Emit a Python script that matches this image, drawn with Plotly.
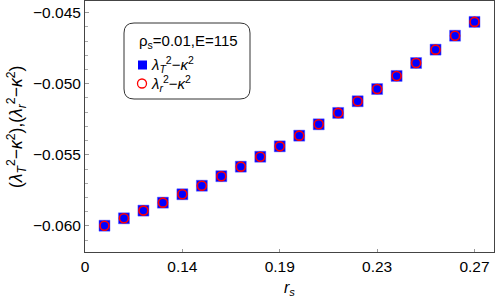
import plotly.graph_objects as go

# ---- data ----
point_index = list(range(1, 21))
lam_T = [-0.05998, -0.05946, -0.05892, -0.05836, -0.05777, -0.05717, -0.05650,
         -0.05583, -0.05513, -0.05440, -0.05365, -0.05285, -0.05205, -0.05123,
         -0.05037, -0.04945, -0.04854, -0.04760, -0.04662, -0.04565]
lam_r = [-0.05998, -0.05946, -0.05892, -0.05836, -0.05777, -0.05717, -0.05650,
         -0.05583, -0.05513, -0.05440, -0.05365, -0.05285, -0.05205, -0.05123,
         -0.05037, -0.04945, -0.04854, -0.04760, -0.04662, -0.04565]
x_tickvals = [0, 5, 10, 15, 20]
x_ticktext = ["0", "0.14", "0.19", "0.23", "0.27"]
y_tickvals = [-0.060, -0.055, -0.050, -0.045]

W, H = 496, 307
L, R, T, B = 85, 2, 1, 55
pw, ph = W - L - R, H - T - B

def px(x):
    return (x - L) / pw

def py(y):
    return (H - B - y) / ph

FONT = "Liberation Sans, Arial, sans-serif"

fig = go.Figure()
fig.add_trace(go.Scatter(x=point_index, y=lam_T, mode="markers",
                         marker=dict(symbol="square", size=11, color="#0000FF",
                                     line=dict(width=0.8, color="rgba(90,90,255,0.6)")),
                         showlegend=False, hoverinfo="skip"))
fig.add_trace(go.Scatter(x=point_index, y=lam_r, mode="markers",
                         marker=dict(symbol="circle-open", size=9, color="#FF0000",
                                     line=dict(width=1.6, color="#FF0000")),
                         showlegend=False, hoverinfo="skip"))

# legend box (rounded)
x0, x1, y0, y1, r = 124, 250, 23, 99, 10
path = (f"M {px(x0+r)},{py(y0)} L {px(x1-r)},{py(y0)} "
        f"Q {px(x1)},{py(y0)} {px(x1)},{py(y0+r)} L {px(x1)},{py(y1-r)} "
        f"Q {px(x1)},{py(y1)} {px(x1-r)},{py(y1)} L {px(x0+r)},{py(y1)} "
        f"Q {px(x0)},{py(y1)} {px(x0)},{py(y1-r)} L {px(x0)},{py(y0+r)} "
        f"Q {px(x0)},{py(y0)} {px(x0+r)},{py(y0)} Z")
shapes = [dict(type="path", path=path, xref="paper", yref="paper",
               line=dict(color="#333333", width=1), fillcolor="white")]
shapes.append(dict(type="rect", xref="paper", yref="paper",
                   x0=px(138), x1=px(147), y0=py(69.5), y1=py(60.5),
                   fillcolor="#0000FF", line=dict(width=0)))
shapes.append(dict(type="circle", xref="paper", yref="paper",
                   x0=px(137.5), x1=px(146.5), y0=py(88), y1=py(79),
                   fillcolor="rgba(0,0,0,0)", line=dict(color="#FF0000", width=1.3)))

annotations = [
    dict(text="ρ<sub>s</sub>=0.01,E=115", x=px(137), y=py(42), xref="paper", yref="paper",
         xanchor="left", yanchor="middle", showarrow=False, font=dict(size=15, color="black", family=FONT)),
    dict(text="<i>λ<sub>T</sub></i><sup>2</sup>−<i>κ</i><sup>2</sup>", x=px(149), y=py(64), xref="paper", yref="paper",
         xanchor="left", yanchor="middle", showarrow=False, font=dict(size=15, color="black", family=FONT)),
    dict(text="<i>λ<sub>r</sub></i><sup>2</sup>−<i>κ</i><sup>2</sup>", x=px(149), y=py(83), xref="paper", yref="paper",
         xanchor="left", yanchor="middle", showarrow=False, font=dict(size=15, color="black", family=FONT)),
    dict(text="<i>r<sub>s</sub></i>", x=px(289), y=py(288), xref="paper", yref="paper",
         xanchor="center", yanchor="middle", showarrow=False, font=dict(size=16, color="black", family=FONT)),
    dict(text="(<i>λ<sub>T</sub></i><sup>2</sup>−<i>κ</i><sup>2</sup>),(<i>λ<sub>r</sub></i><sup>2</sup>−<i>κ</i><sup>2</sup>)",
         x=px(16), y=py(127), xref="paper", yref="paper", textangle=-90,
         xanchor="center", yanchor="middle", showarrow=False, font=dict(size=17.5, color="black", family=FONT)),
]

fig.update_layout(
    width=W, height=H,
    margin=dict(l=L, r=R, t=T, b=B),
    plot_bgcolor="white", paper_bgcolor="white",
    font=dict(family=FONT, size=15, color="black"),
    shapes=shapes, annotations=annotations,
    xaxis=dict(range=[0, 21], tickvals=x_tickvals, ticktext=x_ticktext,
               ticks="inside", ticklen=3, tickcolor="#999999",
               showline=True, linecolor="#444444", linewidth=1, mirror=True,
               showgrid=False, zeroline=False, automargin=False,
               tickfont=dict(size=15.5)),
    yaxis=dict(range=[-0.06183, -0.04418], tickvals=y_tickvals, tickformat=".3f",
               ticks="inside", ticklen=4, tickcolor="#999999",
               minor=dict(dtick=0.001, ticks="inside", ticklen=2.5, tickcolor="#aaaaaa"),
               showline=True, linecolor="#444444", linewidth=1, mirror=True,
               showgrid=False, zeroline=False, automargin=False,
               tickfont=dict(size=15.5)),
)
fig.write_html("out.html", config={"displayModeBar": False},
               post_script="document.body.style.margin='0';")
